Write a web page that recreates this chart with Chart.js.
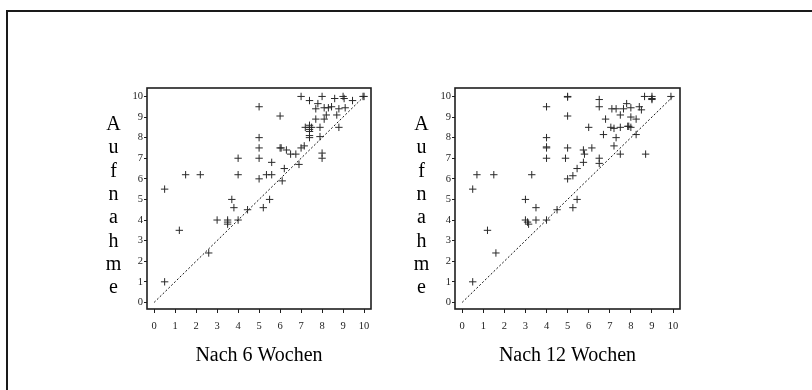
<!DOCTYPE html>
<html lang="de">
<head>
<meta charset="utf-8">
<title>Aufnahme vs. Verlauf</title>
<script src="https://cdn.jsdelivr.net/npm/chart.js@4.4.1/dist/chart.umd.min.js"></script>
<style>
  html, body { margin: 0; padding: 0; background: #fff; }
  body { width: 812px; height: 390px; position: relative; overflow: hidden; }
  .frame { position: absolute; left: 6px; top: 10px; width: 900px; height: 500px; border: 2px solid #1a1a1a; }
  canvas { position: absolute; left: 0; top: 0; }
</style>
</head>
<body>
<div class="frame"></div>
<canvas id="chart6" width="812" height="390"></canvas>
<canvas id="chart12" width="812" height="390"></canvas>

<script>
// --- Data ---
const tickValues = [0, 1, 2, 3, 4, 5, 6, 7, 8, 9, 10];
const yLetters = ["A", "u", "f", "n", "a", "h", "m", "e"];

// score after 6 weeks (x) vs. score at admission (y)
const x6 = [0.5, 0.5, 1.2, 1.5, 2.2, 2.6, 3.0, 3.5, 3.5, 3.5, 3.7, 3.8, 4.0, 4.0, 4.0, 4.45,
  5.0, 5.0, 5.0, 5.0, 5.0, 5.2, 5.35, 5.5, 5.6, 5.6, 6.0, 6.0, 6.05, 6.1, 6.2, 6.3, 6.5, 6.75, 6.9,
  7.0, 7.0, 7.15, 7.2, 7.4, 7.4, 7.4, 7.4, 7.4, 7.4, 7.4, 7.5, 7.7, 7.8, 7.7, 7.9, 7.9,
  8.0, 8.0, 8.0, 8.1, 8.1, 8.2, 8.3, 8.45, 8.6, 8.7, 8.8, 8.8, 9.0, 9.05, 9.1, 9.45, 10.0, 9.95];
const y6 = [1.0, 5.5, 3.5, 6.2, 6.2, 2.4, 4.0, 4.0, 3.9, 3.8, 5.0, 4.6, 4.0, 6.2, 7.0, 4.5,
  9.5, 8.0, 7.5, 7.0, 6.0, 4.6, 6.2, 5.0, 6.2, 6.8, 9.05, 7.5, 7.5, 5.9, 6.5, 7.4, 7.2, 7.2, 6.7,
  10.0, 7.5, 7.6, 8.5, 9.8, 8.6, 8.5, 8.4, 8.3, 8.1, 8.0, 8.5, 9.4, 9.65, 8.9, 8.5, 8.05,
  10.0, 7.25, 7.0, 9.45, 8.9, 9.1, 9.45, 9.5, 9.9, 9.1, 9.4, 8.5, 10.0, 9.9, 9.45, 9.8, 10.0, 10.0];

// score after 12 weeks (x) vs. score at admission (y)
const x12 = [0.5, 0.5, 0.7, 1.2, 1.5, 1.6, 3.0, 3.0, 3.1, 3.15, 3.3, 3.5, 3.5, 4.0, 4.0, 4.0, 4.0, 4.0, 4.0,
  4.5, 4.9, 5.0, 5.0, 5.0, 5.0, 5.0, 5.25, 5.25, 5.45, 5.45, 5.75, 5.8, 5.75, 6.0, 6.15,
  6.5, 6.5, 6.5, 6.5, 6.7, 6.8, 7.1, 7.3, 7.05, 7.2, 7.2, 7.3, 7.5, 7.5, 7.5, 7.65, 7.8, 7.85, 7.9,
  8.0, 8.0, 8.0, 8.25, 8.25, 8.4, 8.5, 8.7, 8.65, 9.0, 9.0, 9.0, 9.9];
const y12 = [1.0, 5.5, 6.2, 3.5, 6.2, 2.4, 5.0, 4.0, 3.9, 3.8, 6.2, 4.6, 4.0, 4.0, 9.5, 8.0, 7.5, 7.55, 7.0,
  4.5, 7.0, 10.0, 9.97, 9.05, 7.5, 6.0, 6.15, 4.6, 5.0, 6.5, 7.4, 7.2, 6.8, 8.5, 7.5,
  9.85, 9.5, 7.0, 6.75, 8.15, 8.9, 9.4, 9.4, 8.5, 8.45, 7.6, 8.0, 7.2, 8.5, 9.1, 9.4, 9.65, 8.55, 8.55,
  9.45, 9.0, 8.5, 8.9, 8.15, 9.5, 9.35, 7.2, 10.0, 10.0, 9.9, 9.85, 10.0];

// identity line
const diagX = [0, 10];
const diagY = [0, 10];

const serif = "'Liberation Serif', 'Times New Roman', serif";
const ink = "#1f1f1f";

// --- Plugins ---
// box around the plot area
const plotBox = {
  id: "plotBox",
  afterDraw(chart) {
    const { ctx, chartArea: a } = chart;
    ctx.save();
    ctx.strokeStyle = ink;
    ctx.lineWidth = 1.6;
    ctx.strokeRect(a.left, a.top, a.right - a.left, a.bottom - a.top);
    ctx.restore();
  }
};

// vertical y title, one letter per line
const stackedTitle = {
  id: "stackedTitle",
  afterDraw(chart) {
    const { ctx, chartArea: a } = chart;
    ctx.save();
    ctx.fillStyle = "#000";
    ctx.font = "20px " + serif;
    ctx.textAlign = "center";
    ctx.textBaseline = "alphabetic";
    yLetters.forEach((ch, i) => {
      ctx.fillText(ch, a.left - 33.5, a.top + 42 + i * 23.3);
    });
    ctx.restore();
  }
};

// --- Chart factory ---
function makeChart(id, xs, ys, title, left, right) {
  const points = xs.map((x, i) => ({ x: x, y: ys[i] }));
  const diag = diagX.map((x, i) => ({ x: x, y: diagY[i] }));
  const yWidth = 30;
  const xHeight = 60;

  return new Chart(document.getElementById(id), {
    type: "scatter",
    data: {
      datasets: [
        {
          data: diag,
          showLine: true,
          borderColor: "#111",
          borderWidth: 1,
          borderDash: [2, 2],
          pointRadius: 0
        },
        {
          data: points,
          pointStyle: "cross",
          pointRadius: 3.7,
          borderColor: "#2a2a2a",
          borderWidth: 1
        }
      ]
    },
    options: {
      responsive: false,
      animation: false,
      events: [],
      layout: {
        padding: { left: left - yWidth, right: 812 - right, top: 88, bottom: 390 - 309 - xHeight }
      },
      plugins: { legend: { display: false }, tooltip: { enabled: false } },
      scales: {
        x: {
          type: "linear",
          min: -0.34,
          max: 10.33,
          afterFit: s => { s.height = xHeight; },
          afterBuildTicks: s => { s.ticks = tickValues.map(v => ({ value: v })); },
          border: { display: false },
          grid: { drawOnChartArea: false, tickLength: 4, color: ink, lineWidth: 1 },
          ticks: { padding: 7, color: "#222", font: { family: serif, size: 10.5 } },
          title: {
            display: true,
            text: title,
            color: "#000",
            padding: { top: 0, bottom: 1 },
            font: { family: serif, size: 20 }
          }
        },
        y: {
          type: "linear",
          min: -0.32,
          max: 10.41,
          afterFit: s => { s.width = yWidth; },
          afterBuildTicks: s => { s.ticks = tickValues.map(v => ({ value: v })); },
          border: { display: false },
          grid: { drawOnChartArea: false, tickLength: 3, color: ink, lineWidth: 1 },
          ticks: { padding: 1, color: "#222", font: { family: serif, size: 10.5 } }
        }
      }
    },
    plugins: [plotBox, stackedTitle]
  });
}

// --- Render ---
makeChart("chart6", x6, y6, "Nach 6 Wochen", 147, 371);
makeChart("chart12", x12, y12, "Nach 12 Wochen", 455, 680);
</script>
</body>
</html>
